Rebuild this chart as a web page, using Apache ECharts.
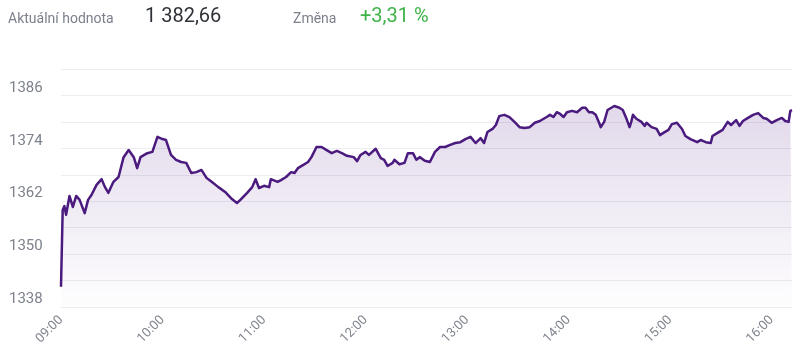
<!DOCTYPE html>
<html>
<head>
<meta charset="utf-8">
<script src="https://cdn.jsdelivr.net/npm/echarts@6/dist/echarts.min.js"></script>
<style>
html,body{margin:0;padding:0;background:#fff;}
#chart{width:800px;height:361px;}
</style>
</head>
<body>
<div id="chart"></div>
<script>
// Header texts
const headerLabel = 'Aktuální hodnota';
const headerValue = '1 382,66';
const changeLabel = 'Změna';
const changeValue = '+3,31 %';

// Minutes after 09:00 for each sampled point
const minutesFrom0900 = [
  0,1,2,3,5,7,9,11,14,16,18,21,24,26,28,31,34,37,40,43,45,47,51,54,57,60,62,65,68,71,
  74,77,80,83,86,89,93,97,101,104,106,110,113,115,117,120,123,124,128,130,133,136,138,140,143,146,148,151,154,157,
  160,163,166,169,173,175,177,180,182,186,189,191,193,196,197,200,203,205,208,210,212,215,218,221,224,227,230,233,236,239,
  242,245,248,250,252,255,257,259,262,265,268,271,274,277,280,283,284,287,289,291,293,295,297,299,302,305,308,310,312,314,
  316,318,319,321,323,324,327,330,332,334,336,337,338,340,343,345,346,349,352,354,356,359,361,364,367,369,372,376,378,381,
  384,385,388,391,394,396,399,401,403,406,409,412,415,417,420,423,426,428,430,431,432
];
// Index values
const indexValues = [
  1342.6,1360.0,1360.9,1358.9,1363.2,1360.7,1363.2,1362.3,1359.3,1362.3,1363.4,1365.7,1367.0,1365.2,1363.9,1366.4,1367.5,1372.0,1373.6,1372.0,1369.5,1372.0,1372.9,1373.2,1376.6,1376.1,1375.9,1372.5,1371.4,1370.9,
  1370.7,1368.4,1368.6,1369.1,1367.3,1366.4,1365.2,1364.1,1362.5,1361.6,1362.3,1363.9,1365.2,1367.0,1365.0,1365.5,1365.2,1367.0,1366.4,1366.8,1367.5,1368.6,1368.4,1369.5,1370.2,1370.9,1372.0,1374.3,1374.3,1373.6,
  1372.9,1373.4,1372.9,1372.3,1372.0,1371.1,1372.5,1373.2,1372.5,1373.9,1371.8,1371.4,1370.0,1370.7,1371.4,1370.4,1370.7,1372.9,1372.9,1371.4,1372.0,1371.2,1370.9,1373.2,1374.3,1374.3,1374.8,1375.2,1375.4,1376.1,
  1376.6,1375.2,1376.3,1375.2,1377.7,1378.4,1379.3,1381.3,1381.6,1381.1,1380.0,1378.8,1378.6,1378.8,1379.8,1380.2,1379.8,1381.1,1381.6,1381.1,1382.2,1381.8,1381.1,1382.2,1382.5,1382.2,1383.2,1383.2,1382.2,1382.2,
  1381.6,1379.8,1378.8,1380.0,1382.7,1382.7,1383.6,1383.2,1382.7,1380.9,1378.8,1380.0,1381.6,1380.7,1380.0,1379.1,1379.8,1378.8,1378.4,1377.0,1377.5,1378.2,1379.5,1379.8,1378.4,1376.8,1376.1,1375.4,1375.9,1375.4,
  1375.2,1376.8,1377.5,1378.2,1380.0,1379.3,1380.4,1379.1,1380.2,1380.9,1381.6,1382.0,1380.9,1380.7,1379.8,1380.4,1380.9,1380.2,1380.0,1382.5,1382.66
];
// Axis settings
const yMin = 1338, yMax = 1392, yStep = 6, yLabelStep = 12;
const xMinMinute = 0, xMaxMinute = 432, xStep = 60;

function fmtTime(m) {
  const h = 9 + Math.floor(m / 60);
  const mm = m % 60;
  return String(h).padStart(2, '0') + ':' + String(mm).padStart(2, '0');
}

const seriesData = minutesFrom0900.map((m, i) => [m, indexValues[i]]);

const chart = echarts.init(document.getElementById('chart'), null, {renderer: 'canvas'});
const FONT = 'Roboto, "Noto Sans", sans-serif';
chart.setOption({
  animation: false,
  backgroundColor: '#ffffff',
  graphic: [
    {type: 'text', left: 8, top: 12, style: {text: headerLabel, font: '14px ' + FONT, fill: '#7b808b'}},
    {type: 'text', left: 145, top: 7, style: {text: headerValue, font: '20px ' + FONT, fill: '#2f3238'}},
    {type: 'text', left: 293, top: 12, style: {text: changeLabel, font: '14px ' + FONT, fill: '#7b808b'}},
    {type: 'text', left: 360, top: 7, style: {text: changeValue, font: '20px ' + FONT, fill: '#3fb34a'}}
  ],
  grid: {left: 61, right: 8, top: 69, bottom: 54, containLabel: false},
  xAxis: {
    type: 'value',
    min: xMinMinute,
    max: xMaxMinute,
    interval: xStep,
    axisLine: {show: false},
    axisTick: {show: false},
    splitLine: {show: false},
    axisLabel: {
      rotate: 45,
      margin: 11,
      fontSize: 13,
      fontFamily: FONT,
      color: '#80858f',
      formatter: v => (v % xStep === 0 ? fmtTime(v) : '')
    }
  },
  yAxis: {
    type: 'value',
    min: yMin,
    max: yMax,
    interval: yStep,
    axisLine: {show: false},
    axisTick: {show: false},
    splitLine: {lineStyle: {color: '#ececf2', width: 1}},
    axisLabel: {
      align: 'left',
      verticalAlign: 'bottom',
      margin: 52,
      padding: 0,
      fontSize: 15,
      fontFamily: FONT,
      color: '#7d828c',
      formatter: v => ((v - yMin) % yLabelStep === 0 ? String(v) : '')
    }
  },
  series: [{
    type: 'line',
    data: seriesData,
    showSymbol: false,
    smooth: false,
    lineStyle: {color: '#4a1a7e', width: 2.5, join: 'round'},
    itemStyle: {color: '#4a1a7e'},
    areaStyle: {
      color: new echarts.graphic.LinearGradient(0, 0, 0, 1, [
        {offset: 0, color: 'rgba(90, 40, 140, 0.25)'},
        {offset: 1, color: 'rgba(90, 40, 140, 0.01)'}
      ])
    }
  }]
});
</script>
</body>
</html>
